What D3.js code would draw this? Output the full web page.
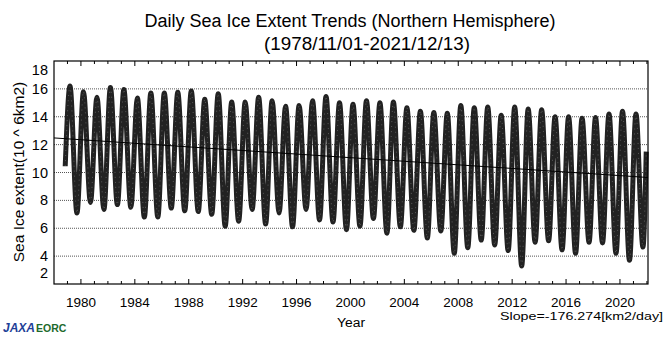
<!DOCTYPE html>
<html><head><meta charset="utf-8">
<script src="https://cdn.jsdelivr.net/npm/d3@7"></script>
<style>
html,body{margin:0;padding:0;background:#fff;}
svg{display:block;font-family:"Liberation Sans",Arial,Helvetica,sans-serif;}
</style></head>
<body><svg id="c" width="670" height="338"></svg>
<script>
// ---- data ----
const startDate = "1978-11-01", startValue = 10.45;
const endDate = "2021-12-13", endValue = 11.5;
const years = d3.range(1979, 2022);
const maxValues = [16.2,15.8,15.4,16.1,15.95,15.35,15.7,15.7,15.75,15.85,15.25,15.65,15.05,15.05,15.4,15.15,14.75,14.8,15.15,15.45,15.0,14.9,15.15,15.0,15.05,14.65,14.4,14.3,14.25,14.8,14.65,14.7,14.1,14.7,14.55,14.5,14.0,14.0,13.9,13.95,14.2,14.4,14.2];
const minValues = [7.1,7.85,7.35,7.7,7.5,6.8,6.8,7.45,7.25,7.2,7.0,6.15,6.5,7.35,6.3,7.1,6.1,7.35,6.6,6.45,5.9,6.15,6.7,5.65,6.1,5.85,5.3,5.8,4.2,4.6,5.15,4.8,4.4,3.3,5.0,5.1,4.45,4.2,5.0,4.95,4.2,3.7,4.65];
const maxDay = "03-10", minDay = "09-15";
const trendStartValue = 12.48;       // at x-domain start
const slopeKm2PerDay = -176.274;
const yTicks = [2,4,6,8,10,12,14,16,18];
const gridValues = [4,6,8,10,12,14,16];
const labelYears = [1980,1984,1988,1992,1996,2000,2004,2008,2012,2016,2020];

// ---- build series ----
const parse = d3.timeParse("%Y-%m-%d");
const series = [{date: parse(startDate), v: startValue}];
years.forEach((y, i) => {
  series.push({date: parse(y + "-" + maxDay), v: maxValues[i]});
  series.push({date: parse(y + "-" + minDay), v: minValues[i]});
});
series.push({date: parse(endDate), v: endValue});

const svg = d3.select("#c");
const L = 54, R = 648, T = 61, B = 284;
const x = d3.scaleTime().domain([new Date(1978,0,1), new Date(2022,0,30)]).range([L, R]);
const y = d3.scaleLinear().domain([2, 18]).range([B, T]);

// title
svg.append("text").attr("x", 350).attr("y", 27).attr("text-anchor","middle")
  .attr("font-size", 18).text("Daily Sea Ice Extent Trends (Northern Hemisphere)");
svg.append("text").attr("x", 367).attr("y", 50).attr("text-anchor","middle")
  .attr("font-size", 18).attr("textLength", 206).attr("lengthAdjust","spacingAndGlyphs")
  .text("(1978/11/01-2021/12/13)");

// grid
svg.append("g").selectAll("line").data(gridValues).join("line")
  .attr("x1", L).attr("x2", R).attr("y1", d => y(d)).attr("y2", d => y(d))
  .attr("stroke", "#555").attr("stroke-width", 1).attr("stroke-dasharray", "1,1");

// data band
const line = d3.line().x(d => x(d.date)).y(d => y(d.v)).curve(d3.curveMonotoneX);
svg.append("path").datum(series).attr("d", line)
  .attr("fill","none").attr("stroke","#222").attr("stroke-width", 5)
  .attr("stroke-linejoin","round");
svg.append("path").datum(series).attr("d", line)
  .attr("fill","none").attr("stroke","#fff").attr("stroke-opacity",0.25).attr("stroke-width", 1)
  .attr("stroke-dasharray","1,4");

// trend line
const d0 = x.domain()[0], d1 = x.domain()[1];
const days = (d1 - d0) / 86400000;
const trend = [{date: d0, v: trendStartValue}, {date: d1, v: trendStartValue + slopeKm2PerDay * days / 1e6}];
svg.append("path").datum(trend).attr("d", d3.line().x(d => x(d.date)).y(d => y(d.v)))
  .attr("stroke","#000").attr("stroke-width",1).attr("fill","none");

// frame
svg.append("rect").attr("x", L).attr("y", T).attr("width", R-L).attr("height", B-T)
  .attr("fill","none").attr("stroke","#000").attr("stroke-width",1.2);

// x ticks
const allYears = d3.range(1979, 2023).map(yy => new Date(yy,0,1));
const tg = svg.append("g");
allYears.forEach(d => {
  const major = labelYears.includes(d.getFullYear());
  const len = major ? 5 : 3;
  tg.append("line").attr("x1", x(d)).attr("x2", x(d)).attr("y1", B).attr("y2", B - len).attr("stroke","#000");
  tg.append("line").attr("x1", x(d)).attr("x2", x(d)).attr("y1", T).attr("y2", T + len).attr("stroke","#000");
});
svg.append("g").selectAll("text").data(labelYears).join("text")
  .attr("x", d => x(new Date(d,0,1))).attr("y", 306.5).attr("text-anchor","middle")
  .attr("font-size", 12).attr("textLength", 30).attr("lengthAdjust","spacingAndGlyphs").text(d => d);

// y labels
svg.append("g").selectAll("text").data(yTicks).join("text")
  .attr("x", 48).attr("y", d => y(d) + (d === 18 ? 9 : d === 2 ? -11 : 0))
  .attr("dy","0.35em").attr("text-anchor","end").attr("font-size", 14.5).text(d => d);

// axis titles
svg.append("text").attr("transform","translate(24,172) rotate(-90)").attr("text-anchor","middle")
  .attr("font-size", 15.5).text("Sea Ice extent(10 ^ 6km2)");
svg.append("text").attr("x", 351).attr("y", 327).attr("text-anchor","middle")
  .attr("font-size", 12.5).attr("textLength", 28).attr("lengthAdjust","spacingAndGlyphs").text("Year");
svg.append("text").attr("x", 663).attr("y", 319.5).attr("text-anchor","end")
  .attr("font-size", 11.5).attr("textLength", 163).attr("lengthAdjust","spacingAndGlyphs")
  .text("Slope=" + slopeKm2PerDay.toFixed(3) + "[km2/day]");

// logo
svg.append("text").attr("x", 3).attr("y", 332).attr("font-size", 12).attr("font-weight","bold")
  .attr("font-style","italic").attr("fill","#1f3f97").text("JAXA");
svg.append("text").attr("x", 36).attr("y", 332).attr("font-size", 10.5).attr("font-weight","bold")
  .attr("fill","#1d6a2c").text("EORC");
</script></body></html>
